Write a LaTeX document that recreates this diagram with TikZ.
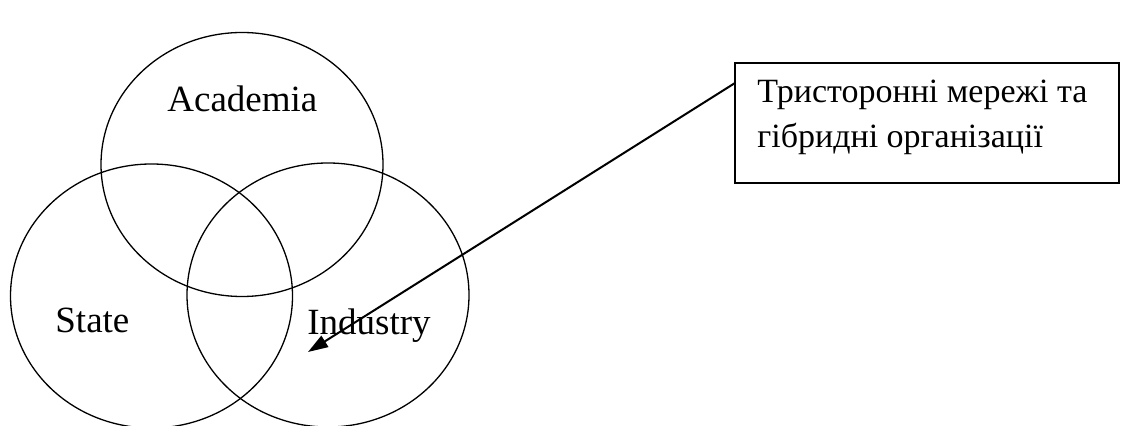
\documentclass[tikz,border=0pt]{standalone}
\usepackage{fontspec}
\setmainfont{Liberation Serif}
\usetikzlibrary{shapes.geometric,arrows.meta}
\begin{document}
\begin{tikzpicture}[x=0.5pt,y=-0.5pt,
  sphere/.style={draw, ellipse, line width=0.65pt, minimum width=141pt,
    minimum height=132pt, inner sep=0pt, outer sep=0pt},
  lbl/.style={anchor=base west, inner sep=0pt, font=\fontsize{18.5}{22}\selectfont},
  notebox/.style={draw, line width=1.2pt, minimum width=192pt, minimum height=60pt,
    inner sep=0pt, outer sep=0pt},
  notetext/.style={anchor=base west, inner sep=0pt, font=\fontsize{17}{20}\selectfont},
  pointer/.style={line width=1pt, -{Triangle[length=10pt,width=6.5pt]}}]
\useasboundingbox (0,0) rectangle (1123,426);

% Triple helix: three overlapping spheres
\node[sphere] (academia) at (242,164.5) {};
\node[sphere] (state)    at (151.5,296) {};
\node[sphere] (industry) at (328,295) {};

\node[lbl] (lacad) at (167,112) {Academia};
\node[lbl] (lstate) at (55,333) {State};
\node[lbl] (lind) at (307,335) {Industry};

% Callout box
\node[notebox] (box) at (927,123) {};
\node[notetext] (line1) at (757,103) {Тристоронні мережі та};
\node[notetext] (line2) at (757,148) {гібридні організації};

\coordinate (src) at ([yshift=-10pt]box.north west);
\coordinate (tip) at (308,352);
\draw[pointer] (src) -- (tip);
\end{tikzpicture}
\end{document}
